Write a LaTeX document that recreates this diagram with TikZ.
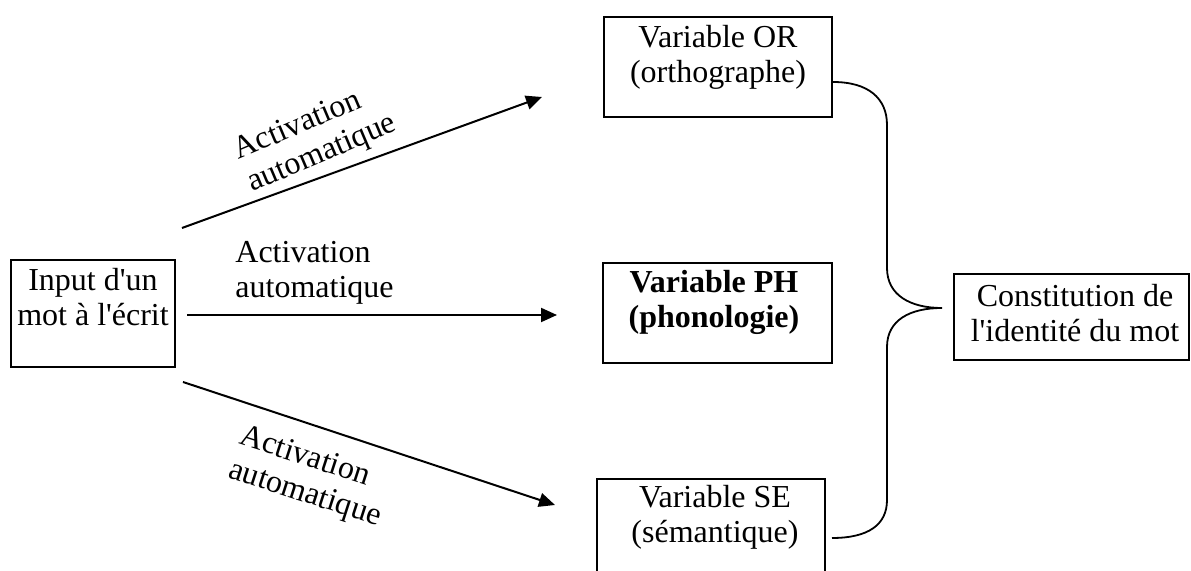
\documentclass[tikz,border=0pt]{standalone}
\usepackage{fontspec}
\setmainfont{Liberation Serif}[Ligatures=TeXOff]
\usetikzlibrary{arrows.meta}
\begin{document}
\begin{tikzpicture}[x=0.5pt,y=-0.5pt,
  box/.style={draw, line width=1pt, inner sep=0pt},
  txt/.style={align=center, inner sep=0pt, anchor=base, font=\fontsize{16pt}{17.5pt}\selectfont},
  lab/.style={align=left, inner sep=0pt, anchor=base west, font=\fontsize{16pt}{17.5pt}\selectfont},
  arr/.style={line width=1pt, -{Triangle[length=8pt,width=7pt]}},
  bracestyle/.style={line width=0.9pt}]
\useasboundingbox (0,0) rectangle (1191,571);
% boxes
\node[box, minimum width=82pt, minimum height=53.5pt] (inp) at (93,313.5) {};
\node[box, minimum width=114pt, minimum height=50pt] (or) at (718,67) {};
\node[box, minimum width=114.5pt, minimum height=50pt] (ph) at (717.5,313) {};
\node[box, minimum width=114pt, minimum height=50pt] (se) at (711,529) {};
\node[box, minimum width=117.5pt, minimum height=43pt] (cons) at (1071.5,317) {};
% box texts (anchor = baseline of last line)
\node[txt] (inptxt) at (93,326) {Input d'un\\mot à l'écrit};
\node[txt] (ortxt) at (718,83) {Variable OR\\(orthographe)};
\node[txt, font=\fontsize{16pt}{17.5pt}\selectfont\bfseries] (phtxt) at (714,328) {Variable PH\\(phonologie)};
\node[txt] (setxt) at (715,543) {Variable SE\\(sémantique)};
\node[txt] (constxt) at (1075,342) {Constitution de\\l'identité du mot};
% arrows
\coordinate (a1s) at (182,228); \coordinate (a1e) at (542,97);
\coordinate (a2s) at (187,315); \coordinate (a2e) at (557,315);
\coordinate (a3s) at (183,382); \coordinate (a3e) at (555,505);
\draw[arr] (a1s) -- (a1e);
\draw[arr] (a2s) -- (a2e);
\draw[arr] (a3s) -- (a3e);
% labels
\node[lab, rotate=23] (l1) at (252,192) {Activation\\automatique};
\node[lab] (l2) at (235,298) {Activation\\automatique};
\node[lab, rotate=-18] (l3) at (227,477) {Activation\\automatique};
% brace
\coordinate (b1) at (833,82);
\coordinate (tip) at (942,308);
\coordinate (b2) at (832,538);
\draw[bracestyle] (b1) .. controls (868,82) and (887,98) .. (887,125) -- (887,268)
  .. controls (887,295) and (910,308) .. (tip)
  .. controls (910,308) and (887,320) .. (887,347) -- (887,500)
  .. controls (887,525) and (868,538) .. (b2);
\end{tikzpicture}
\end{document}
